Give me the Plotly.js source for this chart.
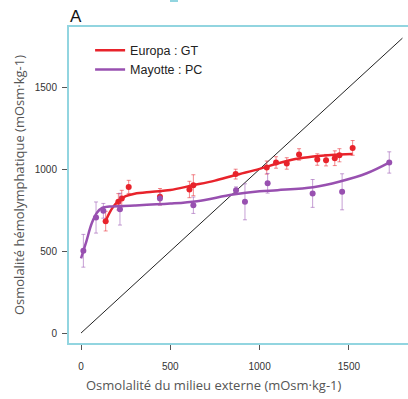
<!DOCTYPE html>
<html><head><meta charset="utf-8">
<script src="https://cdn.plot.ly/plotly-3.0.1.min.js"></script>
<style>html,body{margin:0;padding:0;background:#fff;}#chart{width:408px;height:399px;}</style>
</head><body><div id="chart"></div>
<script>
// Europa : GT (points)
const euX = [138, 209, 228, 267, 442, 607, 629, 866, 1040, 1092, 1152, 1221, 1323, 1372, 1421, 1447, 1521];
const euY = [683, 801, 821, 892, 832, 876, 902, 970, 1010, 1041, 1035, 1090, 1059, 1055, 1067, 1085, 1130];
const euErr = [60, 50, 50, 40, 50, 50, 64, 30, 40, 35, 35, 35, 35, 35, 45, 40, 45];
// Europa fitted curve
const euFitX = [140, 160, 180, 200, 220, 250, 300, 400, 500, 620, 750, 860, 1000, 1100, 1200, 1300, 1400, 1520];
const euFitY = [690, 735, 770, 795, 812, 835, 850, 862, 873, 900, 930, 963, 1002, 1035, 1062, 1078, 1087, 1092];
// Mayotte : PC (points)
const maX = [13, 84, 125, 218, 442, 629, 868, 918, 1045, 1297, 1462, 1726];
const maY = [502, 705, 746, 756, 821, 780, 872, 801, 914, 852, 862, 1041];
const maErr = [100, 95, 45, 97, 40, 50, 20, 110, 60, 85, 110, 65];
// Mayotte fitted curve
const maFitX = [0, 30, 60, 90, 120, 160, 300, 500, 650, 850, 1000, 1100, 1300, 1450, 1600, 1725];
const maFitY = [455, 560, 670, 735, 765, 772, 778, 790, 805, 845, 865, 872, 890, 925, 975, 1040];
// identity line
const idX = [0, 1800];
const idY = [0, 1800];
const tickVals = [0, 500, 1000, 1500];

const red = '#e8232b', purple = '#9850b0';
const data = [
  {x: idX, y: idY, mode: 'lines', line: {color: '#222', width: 1}, showlegend: false, hoverinfo: 'skip'},
  {x: euX, y: euY, mode: 'markers', marker: {color: red, size: 6},
   error_y: {type: 'data', array: euErr, color: 'rgba(232,35,43,0.55)', thickness: 1, width: 2}, showlegend: false},
  {x: maX, y: maY, mode: 'markers', marker: {color: purple, size: 6},
   error_y: {type: 'data', array: maErr, color: 'rgba(152,80,176,0.55)', thickness: 1, width: 2}, showlegend: false},
  {x: euFitX, y: euFitY, mode: 'lines', line: {color: red, width: 2.5, shape: 'spline'}, name: 'Europa : GT'},
  {x: maFitX, y: maFitY, mode: 'lines', line: {color: purple, width: 2.5, shape: 'spline'}, name: 'Mayotte : PC'}
];
const W = 340, H = 318;
const layout = {
  width: 408, height: 399,
  margin: {l: 68, r: 0, t: 26, b: 55},
  paper_bgcolor: '#fff', plot_bgcolor: '#fff',
  showlegend: true,
  legend: {x: 0.065, y: 0.97, xanchor: 'left', yanchor: 'top', bgcolor: 'rgba(0,0,0,0)',
           font: {family: 'Liberation Sans, Arial, sans-serif', size: 12.5, color: '#222'}, tracegroupgap: 0, itemwidth: 30},
  xaxis: {range: [-73, 1831], showgrid: false, zeroline: false, showline: false,
          tickvals: tickVals, ticks: 'outside', ticklen: 5, tickcolor: '#555', ticklabelstandoff: 8,
          tickfont: {family: 'Liberation Sans, Arial, sans-serif', size: 10, color: '#333'}},
  yaxis: {range: [-67, 1874], showgrid: false, zeroline: false, showline: false,
          tickvals: tickVals, ticks: 'outside', ticklen: 5, tickcolor: '#555', ticklabelstandoff: 3,
          tickfont: {family: 'Liberation Sans, Arial, sans-serif', size: 10, color: '#333'},
          title: {text: 'Osmolalité hémolymphatique (mOsm·kg-1)', standoff: 7,
                  font: {family: 'Open Sans, sans-serif', size: 13, color: '#555'}}},
  shapes: [
    {type: 'rect', xref: 'paper', yref: 'paper', x0: 0, x1: 1.05, y0: 0, y1: 1,
     line: {color: '#92d5e0', width: 2}, fillcolor: 'rgba(0,0,0,0)'},
    {type: 'rect', xref: 'paper', yref: 'paper', x0: (170-68)/W, x1: (178-68)/W, y0: 1 + 24/H, y1: 1 + 27/H,
     line: {width: 0}, fillcolor: '#92d5e0'}
  ],
  annotations: [
    {text: 'A', xref: 'paper', yref: 'paper', x: 0, y: 1 - 2/H, xanchor: 'left', yanchor: 'bottom',
     showarrow: false, font: {family: 'Liberation Sans, Arial, sans-serif', size: 17, color: '#111'}},
    {text: 'Osmolalité du milieu externe (mOsm·kg-1)', xref: 'paper', yref: 'paper',
     x: (214-68)/W, y: -(385-344)/H, xanchor: 'center', yanchor: 'middle', showarrow: false,
     font: {family: 'Open Sans, sans-serif', size: 13, color: '#555'}}
  ]
};
Plotly.newPlot('chart', data, layout, {displayModeBar: false, staticPlot: true});
</script></body></html>
